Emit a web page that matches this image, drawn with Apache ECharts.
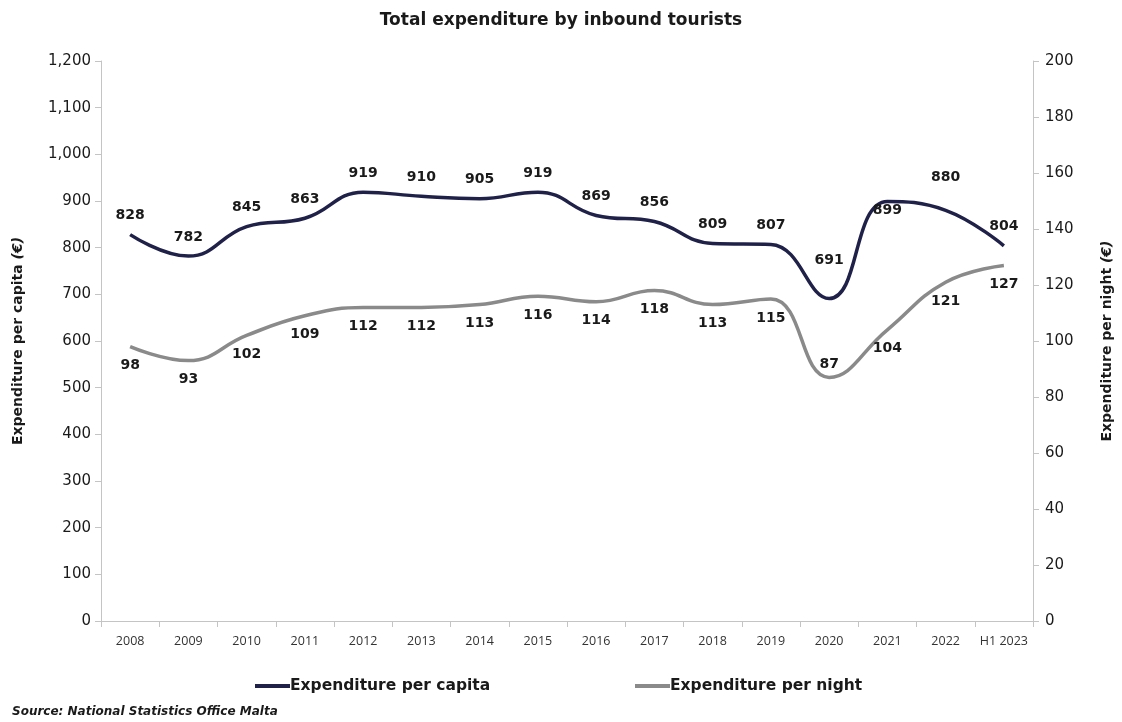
<!DOCTYPE html>
<html>
<head>
<meta charset="utf-8">
<script src="https://cdn.jsdelivr.net/npm/echarts@6/dist/echarts.min.js"></script>
<style>
  html, body { margin: 0; padding: 0; background: #fff; }
  #chart { width: 1122px; height: 722px; }
</style>
</head>
<body>
<div id="chart"></div>
<script>
// Years shown on the category axis
const years = ['2008','2009','2010','2011','2012','2013','2014','2015','2016','2017','2018','2019','2020','2021','2022','H1 2023'];
// Expenditure per capita (€), left axis
const perCapita = [828, 782, 845, 863, 919, 910, 905, 919, 869, 856, 809, 807, 691, 899, 880, 804];
// Expenditure per night (€), right axis
const perNight = [98, 93, 102, 109, 112, 112, 113, 116, 114, 118, 113, 115, 87, 104, 121, 127];

const WIDE = '"DejaVu Sans", "Noto Sans", sans-serif';
const NARROW = '"Open Sans", "Noto Sans", sans-serif';
const AXIS_GREY = '#c4c4c4';
const NAVY = '#1f2148';
const GREY = '#8a8a8a';
const INK = '#1a1a1a';

const labelBase = { show: true, fontFamily: WIDE, fontWeight: 'bold', fontSize: 14, color: INK };

// per-point label placement for the capita line
const capitaLabels = perCapita.map((v, i) => {
  if (i === 13) return { value: v, label: { position: 'bottom', distance: 2 } };
  if (i === 14) return { value: v, label: { position: 'top', distance: 26 } };
  if (i === 12) return { value: v, label: { position: 'top', distance: 31 } };
  return v;
});
// per-point label placement for the night line
const nightLabels = perNight.map((v, i) => {
  if (i === 12) return { value: v, label: { position: 'top', distance: 6 } };
  return v;
});

const nameStyle = {
  fontFamily: WIDE, fontWeight: 'bold', fontSize: 14, color: INK,
  rich: { i: { fontFamily: WIDE, fontWeight: 'bold', fontStyle: 'italic', fontSize: 14, color: INK } }
};

const legendCommon = {
  bottom: 23,
  itemWidth: 35,
  itemHeight: 4,
  icon: 'rect',
  textStyle: { fontFamily: WIDE, fontWeight: 'bold', fontSize: 15.5, color: INK, padding: [0, 0, 0, -5] }
};

const chart = echarts.init(document.getElementById('chart'), null, { renderer: 'canvas' });
chart.setOption({
  backgroundColor: '#ffffff',
  animation: false,
  title: {
    text: 'Total expenditure by inbound tourists',
    left: 'center',
    top: 7,
    textStyle: { fontFamily: WIDE, fontWeight: 'bold', fontSize: 17, color: INK }
  },
  graphic: [{
    type: 'text',
    left: 12,
    top: 706,
    style: {
      text: 'Source: National Statistics Office Malta',
      font: 'italic bold 12px ' + WIDE,
      fill: INK
    }
  }],
  legend: [
    Object.assign({ left: 250, data: ['Expenditure per capita'] }, legendCommon),
    Object.assign({ left: 630, data: ['Expenditure per night'] }, legendCommon)
  ],
  grid: { left: 101, right: 87, top: 61, bottom: 101 },
  xAxis: {
    type: 'category',
    data: years,
    boundaryGap: true,
    axisLine: { lineStyle: { color: AXIS_GREY, width: 1 } },
    axisTick: { show: true, length: 6, lineStyle: { color: AXIS_GREY } },
    axisLabel: { fontFamily: NARROW, fontSize: 12.5, color: '#333', margin: 14, interval: 0 }
  },
  yAxis: [{
    type: 'value',
    min: 0, max: 1200, interval: 100,
    name: 'Expenditure per capita {i|(€)}',
    nameLocation: 'middle',
    nameGap: 76,
    nameTextStyle: nameStyle,
    axisLine: { show: true, lineStyle: { color: AXIS_GREY } },
    axisTick: { show: true, length: 6, lineStyle: { color: AXIS_GREY } },
    splitLine: { show: false },
    axisLabel: {
      fontFamily: WIDE, fontSize: 15, color: INK, margin: 10,
      formatter: v => v.toLocaleString('en-US')
    }
  }, {
    type: 'value',
    min: 0, max: 200, interval: 20,
    position: 'right',
    name: 'Expenditure per night {i|(€)}',
    nameLocation: 'middle',
    nameGap: 67,
    nameRotate: 90,
    nameTextStyle: nameStyle,
    axisLine: { show: true, lineStyle: { color: AXIS_GREY } },
    axisTick: { show: true, length: 6, lineStyle: { color: AXIS_GREY } },
    splitLine: { show: false },
    axisLabel: { fontFamily: WIDE, fontSize: 15, color: INK, margin: 12 }
  }],
  series: [{
    name: 'Expenditure per capita',
    type: 'line',
    yAxisIndex: 0,
    data: capitaLabels,
    smooth: 0.45,
    symbol: 'circle',
    symbolSize: 0.1,
    showSymbol: true,
    lineStyle: { color: NAVY, width: 3.5 },
    itemStyle: { color: NAVY },
    label: Object.assign({}, labelBase, { position: 'top', distance: 12 })
  }, {
    name: 'Expenditure per night',
    type: 'line',
    yAxisIndex: 1,
    data: nightLabels,
    smooth: 0.45,
    symbol: 'circle',
    symbolSize: 0.1,
    showSymbol: true,
    lineStyle: { color: GREY, width: 3.5 },
    itemStyle: { color: GREY },
    label: Object.assign({}, labelBase, { position: 'bottom', distance: 12 })
  }]
});
</script>
</body>
</html>
